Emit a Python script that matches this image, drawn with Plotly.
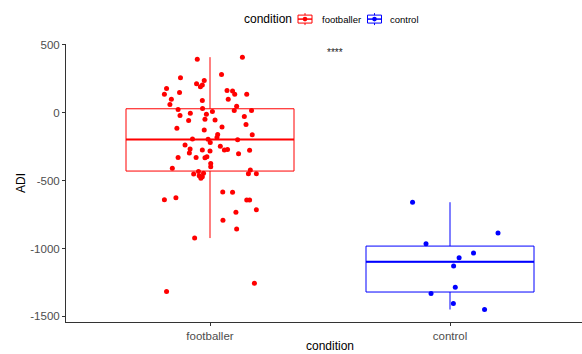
import numpy as np
import plotly.graph_objects as go

# ---- data -------------------------------------------------------------
categories = ["footballer", "control"]
group_colors = ["#FF0000", "#0000FF"]

footballer_adi = [
    409, 393, 282, 258, 238, 214, 204, 192, 178, 163,
    160, 136, 148, 136, 136, 99, 99, 90, 60, 48,
    31, 23, 16, 16, 9, -4, -11, -21, -28, -57,
    -48, -53, -87, -114, -106, -128, -163, -160, -182, -194,
    -195, -219, -199, -238, -246, -268, -275, -275, -270, -282,
    -277, -297, -302, -329, -329, -332, -324, -373, -398, -409,
    -422, -451, -432, -446, -464, -471, -483, -449, -449, -583,
    -585, -640, -627, -642, -642, -732, -715, -791, -857, -923,
    -1256, -1317,
]
# horizontal jitter of each footballer point (category units)
footballer_jitter = [
    0.135, -0.053, 0.048, -0.123, -0.024, -0.056, -0.032, -0.040, -0.181, 0.071,
    0.094, -0.190, -0.127, 0.103, 0.153, -0.161, 0.076, -0.032, -0.167, 0.111,
    -0.031, -0.133, 0.101, 0.173, 0.010, -0.082, -0.015, -0.125, 0.143, -0.089,
    -0.021, 0.021, 0.150, -0.138, 0.050, -0.024, 0.176, 0.032, 0.029, -0.073,
    -0.008, 0.001, 0.115, -0.104, 0.043, -0.083, -0.032, 0.060, 0.073, 0.000,
    0.165, -0.086, 0.119, -0.133, -0.058, -0.021, -0.013, 0.003, 0.003, -0.157,
    0.168, -0.068, -0.048, -0.027, -0.045, -0.032, -0.038, 0.160, 0.193, 0.053,
    0.094, -0.190, -0.142, 0.153, 0.165, 0.108, 0.193, 0.054, 0.111, -0.064,
    0.185, -0.181,
]

control_adi = [-659, -886, -965, -1033, -1068, -1128, -1285, -1332, -1405, -1449]
control_jitter = [-0.156, 0.200, -0.100, 0.098, 0.038, 0.015, 0.022, -0.079, 0.014, 0.144]

y_ticks = [-1500, -1000, -500, 0, 500]
signif_label = "****"
signif_x = 1.52
signif_y = 440

group_values = [footballer_adi, control_adi]
group_jitter = [footballer_jitter, control_jitter]

# ---- page geometry (px) ---------------------------------------------------
W, H = 582, 354
L, R, T, B = 66, 0, 43.5, 31.5
PW, PH = W - L - R, H - T - B
FONT = "Liberation Sans, Arial, Helvetica, sans-serif"
TICK_GREY = "#4D4D4D"
AXIS_GREY = "#333333"


def px_x(px):
    return (px - L) / PW


def px_y(py):
    return (H - B - py) / PH


def box_stats(vals):
    v = np.asarray(vals, dtype=float)
    q1, med, q3 = np.percentile(v, [25, 50, 75])
    iqr = q3 - q1
    lo = v[v >= q1 - 1.5 * iqr].min()
    hi = v[v <= q3 + 1.5 * iqr].max()
    return q1, med, q3, lo, hi


BOX_W = 0.7
fig = go.Figure()

for i, (name, col, vals, jit) in enumerate(zip(categories, group_colors, group_values, group_jitter)):
    pos = i + 1
    q1, med, q3, lo, hi = box_stats(vals)
    fig.add_trace(go.Box(
        x=[pos], q1=[q1], median=[med], q3=[q3], lowerfence=[lo], upperfence=[hi],
        width=BOX_W, whiskerwidth=0, boxpoints=False,
        line=dict(color=col, width=1), fillcolor="rgba(255,255,255,0)",
        name=name, showlegend=False, hoverinfo="skip",
    ))
    # thicker median bar
    fig.add_trace(go.Scatter(
        x=[pos - BOX_W / 2, pos + BOX_W / 2], y=[med, med], mode="lines",
        line=dict(color=col, width=2), showlegend=False, hoverinfo="skip",
    ))
    fig.add_trace(go.Scatter(
        x=[pos + j for j in jit], y=vals, mode="markers",
        marker=dict(color=col, size=5, line=dict(width=0)),
        name=name, showlegend=False,
    ))

axis_common = dict(
    showline=True, linecolor=AXIS_GREY, linewidth=1, mirror=False,
    ticks="outside", ticklen=3, tickwidth=1, tickcolor=AXIS_GREY,
    showgrid=False, zeroline=False,
    tickfont=dict(family=FONT, size=11.5, color=TICK_GREY),
)

fig.update_xaxes(range=[0.4, 2.55], tickvals=[1, 2], ticktext=categories, **axis_common)
fig.update_yaxes(range=[-1541, 506], tickvals=y_ticks, ticktext=[str(t) for t in y_ticks], **axis_common)

annotations = [
    dict(x=signif_x, y=signif_y, xref="x", yref="y", text=signif_label, showarrow=False,
         font=dict(family=FONT, size=10, color="#222222"), xanchor="center", yanchor="middle"),
    # axis titles
    dict(x=px_x(330), y=px_y(347), xref="paper", yref="paper", text="condition", showarrow=False,
         font=dict(family=FONT, size=12, color="#000000"), xanchor="center", yanchor="middle"),
    dict(x=px_x(21), y=px_y(183), xref="paper", yref="paper", text="ADI", showarrow=False, textangle=-90,
         font=dict(family=FONT, size=12, color="#000000"), xanchor="center", yanchor="middle"),
    # legend title
    dict(x=px_x(242), y=px_y(18.5), xref="paper", yref="paper", text="condition", showarrow=False,
         font=dict(family=FONT, size=12, color="#000000"), xanchor="left", yanchor="middle"),
]

shapes = []
legend_keys = [(305, 320), (374.5, 388)]
for (kx, tx), name, col in zip(legend_keys, categories, group_colors):
    ky = 18.5
    shapes.append(dict(type="rect", xref="paper", yref="paper",
                       x0=px_x(kx - 7), x1=px_x(kx + 7), y0=px_y(ky + 4), y1=px_y(ky - 4),
                       line=dict(color=col, width=1), fillcolor="rgba(0,0,0,0)"))
    for (a, b) in [(ky - 6, ky - 4), (ky + 4, ky + 6)]:
        shapes.append(dict(type="line", xref="paper", yref="paper",
                           x0=px_x(kx), x1=px_x(kx), y0=px_y(a), y1=px_y(b),
                           line=dict(color=col, width=1)))
    shapes.append(dict(type="line", xref="paper", yref="paper",
                       x0=px_x(kx - 7), x1=px_x(kx + 7), y0=px_y(ky), y1=px_y(ky),
                       line=dict(color=col, width=1.5)))
    shapes.append(dict(type="circle", xref="paper", yref="paper",
                       x0=px_x(kx - 2.3), x1=px_x(kx + 2.3), y0=px_y(ky + 2.3), y1=px_y(ky - 2.3),
                       line=dict(width=0), fillcolor=col))
    annotations.append(dict(x=px_x(tx), y=px_y(ky), xref="paper", yref="paper", text=name,
                            showarrow=False, font=dict(family=FONT, size=9.5, color="#000000"),
                            xanchor="left", yanchor="middle"))

fig.update_layout(
    template="none",
    width=W, height=H,
    margin=dict(l=L, r=R, t=T, b=B, autoexpand=False),
    paper_bgcolor="white", plot_bgcolor="white",
    showlegend=False,
    annotations=annotations, shapes=shapes,
    font=dict(family=FONT, color="#000000"),
)

fig.write_html("out.html")
